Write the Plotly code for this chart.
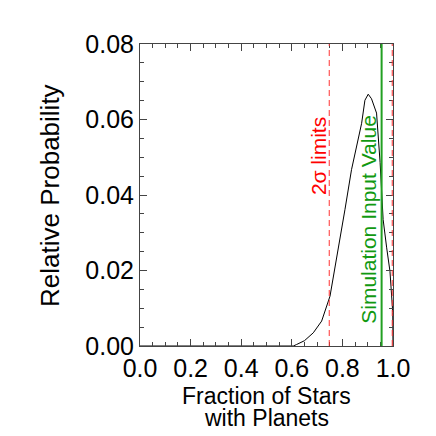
import plotly.graph_objects as go

# Data
frac = [0.0, 0.55, 0.58, 0.606, 0.619, 0.65, 0.685, 0.718, 0.751, 0.784, 0.810,
        0.836, 0.856, 0.876, 0.889, 0.902, 0.915, 0.935, 0.949, 0.961, 0.975,
        0.988, 0.999, 1.0]
prob = [0.0, 0.0, 0.0, 0.0, 0.0004, 0.0014, 0.0035, 0.0066, 0.0132, 0.0256, 0.0361,
        0.0467, 0.0529, 0.059, 0.0651, 0.0667, 0.0655, 0.0617, 0.0486, 0.0335, 0.026,
        0.0198, 0.0089, 0.0]
sigma_limits = [0.748, 0.997]
sim_input = 0.955

x_ticks = [0.0, 0.2, 0.4, 0.6, 0.8, 1.0]
y_ticks = [0.0, 0.02, 0.04, 0.06, 0.08]
x_title_lines = ["Fraction of Stars", "with Planets"]
y_title = "Relative Probability"

FONT = "Liberation Sans, Arial, Helvetica, sans-serif"
AX = "#444444"

fig = go.Figure()
fig.add_trace(go.Scatter(x=frac, y=prob, mode="lines",
                         line=dict(color="black", width=1), showlegend=False,
                         hoverinfo="skip"))

for xv in sigma_limits:
    fig.add_shape(type="line", x0=xv, x1=xv, y0=0, y1=0.08, xref="x", yref="y",
                  line=dict(color="#ff3333", width=1, dash="6px,4px"))
fig.add_shape(type="line", x0=sim_input, x1=sim_input, y0=0, y1=0.08, xref="x", yref="y",
              line=dict(color="#22a022", width=2))

fig.add_annotation(x=0.705, y=0.0504, text="2σ limits", textangle=-90, showarrow=False,
                   font=dict(color="#ff0000", size=21, family=FONT))
fig.add_annotation(x=0.902, y=0.0335, text="Simulation Input Value", textangle=-90,
                   showarrow=False, font=dict(color="#119911", size=21, family=FONT))

# axis titles as annotations (tight line spacing like the reference)
for txt, yp in zip(x_title_lines, [-0.163, -0.236]):
    fig.add_annotation(x=0.5, y=yp, xref="paper", yref="paper", text=txt, showarrow=False,
                       xanchor="center", yanchor="middle", height=19, valign="middle",
                       font=dict(size=23, color="black", family=FONT))
fig.add_annotation(x=-0.356, y=0.5, xref="paper", yref="paper", text=y_title,
                   textangle=-90, showarrow=False, xanchor="center", yanchor="middle",
                   font=dict(size=26, color="black", family=FONT))

axis_common = dict(showgrid=False, zeroline=False, showline=True, linecolor=AX,
                   linewidth=1, mirror="allticks", ticks="inside", tickcolor=AX,
                   ticklen=7, tickwidth=1, automargin=False,
                   tickfont=dict(size=25, color="black", family=FONT))

fig.update_xaxes(range=[0, 1.0], tickvals=x_ticks, ticktext=[f"{v:.1f}" for v in x_ticks],
                 minor=dict(dtick=0.05, ticks="inside", ticklen=4, tickcolor=AX),
                 **axis_common)
fig.update_yaxes(range=[0, 0.08], tickvals=y_ticks, ticktext=[f"{v:.2f}" for v in y_ticks],
                 minor=dict(dtick=0.005, ticks="inside", ticklen=4, tickcolor=AX),
                 **axis_common)

fig.update_layout(width=436, height=436, margin=dict(l=140, r=43, t=44, b=90),
                  plot_bgcolor="white", paper_bgcolor="white",
                  font=dict(family=FONT, color="black"))

fig.write_html("out.html", config={"displayModeBar": False},
               post_script="document.body.style.margin='0px';")
